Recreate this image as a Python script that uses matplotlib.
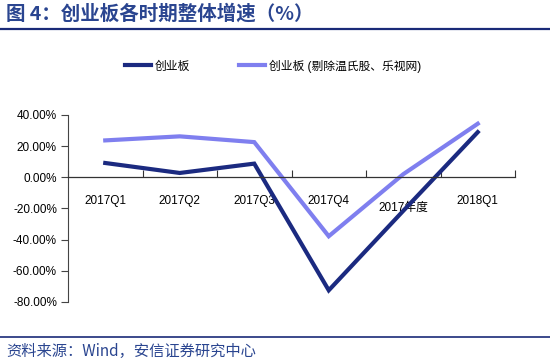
import matplotlib
matplotlib.use("Agg")
import matplotlib.pyplot as plt
from matplotlib.lines import Line2D
import matplotlib.transforms as mtransforms

plt.rcParams['font.family'] = ['Liberation Sans', 'Noto Sans CJK SC', 'DejaVu Sans']

# 数据
categories = ["2017Q1", "2017Q2", "2017Q3", "2017Q4", "2017年度", "2018Q1"]
cyb = [9.2, 2.8, 8.8, -72.5, -21.5, 29.0]
cyb_ex = [23.7, 26.3, 22.6, -37.8, 2.0, 34.4]
yticks = [-80, -60, -40, -20, 0, 20, 40]

dark = "#1B2A80"
light = "#7F7FEF"
title_color = "#2A4590"

fig = plt.figure(figsize=(5.5, 3.63), dpi=100)
ax = fig.add_axes([68 / 550, 1 - 302 / 363, 447 / 550, 187 / 363])

x = list(range(len(categories)))
ax.plot(x, cyb, color=dark, lw=3, solid_joinstyle="miter")
ax.plot(x, cyb_ex, color=light, lw=3, solid_joinstyle="miter")

ax.set_xlim(-0.5, len(categories) - 0.5)
ax.set_ylim(-80, 40)
ax.set_yticks(yticks)
ax.set_yticklabels([f"{v:.2f}%" for v in yticks], fontsize=8.5)
ax.tick_params(axis="y", direction="out", length=5, width=0.8, pad=3, color="#444444")

for s in ["top", "right"]:
    ax.spines[s].set_visible(False)
ax.spines["left"].set_color("#444444")
ax.spines["left"].set_linewidth(0.8)
ax.spines["bottom"].set_position(("data", 0))
ax.spines["bottom"].set_color("#333333")
ax.spines["bottom"].set_linewidth(0.9)

ax.set_xticks(x)
ax.set_xticklabels(categories, fontsize=8.5)
ax.set_xticks([i - 0.5 for i in range(len(categories) + 1)], minor=True)
ax.tick_params(axis="x", which="major", length=0, pad=13)
ax.tick_params(axis="x", which="minor", direction="in", length=5, width=0.8, color="#333333")

# 2017年度 的标签略低
lab = ax.get_xticklabels()[4]
lab.set_transform(lab.get_transform() + mtransforms.ScaledTranslation(0, -5 / 72, fig.dpi_scale_trans))

# 图例
handles = [Line2D([], [], color=dark, lw=3), Line2D([], [], color=light, lw=3)]
fig.legend(handles, ["创业板", "创业板 (剔除温氏股、乐视网)"], loc="center",
           bbox_to_anchor=(273 / 550, 1 - 66 / 363), ncol=2, frameon=False,
           fontsize=8.5, handlelength=2.2, handletextpad=0.3, columnspacing=4.2)

# 标题与来源
fig.text(6 / 550, 1 - 14 / 363, "图 4：创业板各时期整体增速（%）", fontsize=14,
         fontweight="bold", color=title_color, va="center", ha="left",
         family=['Noto Sans CJK SC', 'DejaVu Sans'])
fig.add_artist(Line2D([0, 1], [1 - 29 / 363, 1 - 29 / 363], color="#1A2A78", lw=1.6))
fig.add_artist(Line2D([0, 1], [1 - 337 / 363, 1 - 337 / 363], color="#1A2A78", lw=1.2))
fig.text(6 / 550, 1 - 351 / 363, "资料来源：Wind，安信证券研究中心", fontsize=11,
         style="italic", color=title_color, va="center", ha="left",
         family=['Noto Sans CJK SC', 'DejaVu Sans'])

fig.savefig("out.png", dpi=100)
